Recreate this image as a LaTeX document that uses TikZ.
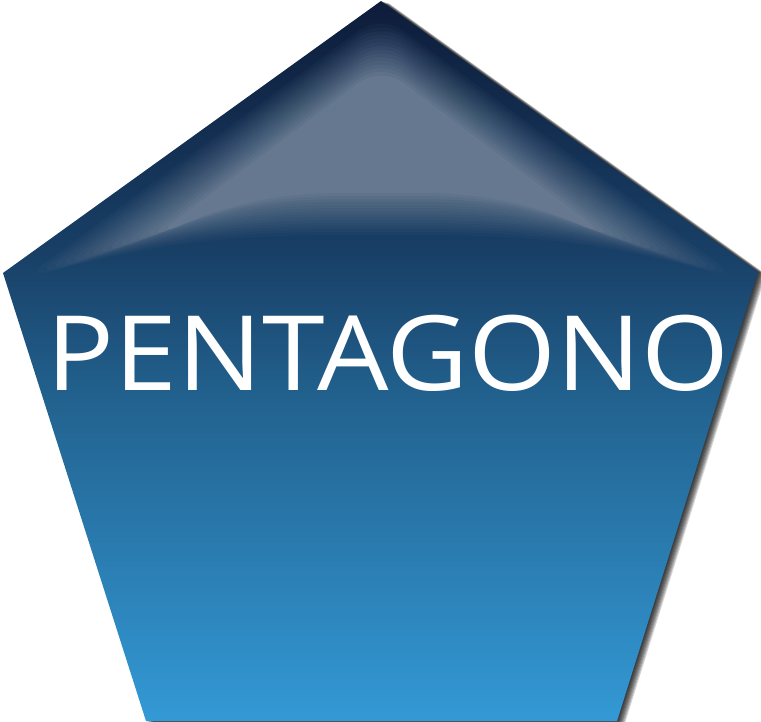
\documentclass[tikz,border=0pt]{standalone}
\usepackage{fontspec}
\newfontfamily\labelfont{Open Sans}
\definecolor{c0}{HTML}{0E1C3A}
\definecolor{c1}{HTML}{183F66}
\definecolor{c2}{HTML}{22628F}
\definecolor{c3}{HTML}{3399D5}
\definecolor{hlcol}{HTML}{65788F}
\pgfdeclareverticalshading{pentshade}{100bp}{color(0bp)=(c3); color(25bp)=(c3); color(47.3bp)=(c2); color(57.7bp)=(c1); color(75bp)=(c0); color(100bp)=(c0)}
\newcommand\pentpath{(381,1) -- (758,272) -- (617,721) -- (146,721) -- (3,273) -- cycle}
\begin{document}
\begin{tikzpicture}[x=1pt, y=-1pt]
  \useasboundingbox (0,0) rectangle (761,721);
  \fill[white] (0,0) rectangle (761,721);
  % shadow
  \foreach \k in {1,...,8}{
    \fill[black, opacity=0.16, shift={(\k,0.3*\k)}] \pentpath;
  }
  % body
  \shade[shading=pentshade] \pentpath;
  % soft highlight (stacked layers)
  \begin{scope}
    \clip \pentpath;
    \foreach \n in {1,...,15}{
      \pgfmathsetmacro\d{-24+3*\n}
      \pgfmathsetmacro\al{1/(16-\n)}
      \pgfmathsetmacro\ay{40+1.23*\d}
      \pgfmathsetmacro\ey{258-\d}
      \pgfmathsetmacro\lx{381-1.389*(\ey-\ay)+10}
      \pgfmathsetmacro\rx{381+1.389*(\ey-\ay)-10}
      \pgfmathsetmacro\cy{214-\d}
      \pgfmathsetmacro\ra{\rx-0.45*(\rx-381)}
      \pgfmathsetmacro\rb{381+0.3*(\rx-381)}
      \pgfmathsetmacro\la{\lx+0.45*(381-\lx)}
      \pgfmathsetmacro\lb{381-0.3*(381-\lx)}
      \fill[hlcol, opacity=\al, rounded corners=28pt] (381,\ay) -- (\rx,\ey) .. controls (\ra,\cy) and (\rb,\cy) .. (381,\cy) .. controls (\lb,\cy) and (\la,\cy) .. (\lx,\ey) -- cycle;
    }
  \end{scope}
  \node[text=white, inner sep=0pt, anchor=base, xscale=1.086, font=\labelfont\fontsize{104}{104}\selectfont] (title) at (388,390) {PENTAGONO};
\end{tikzpicture}
\end{document}
